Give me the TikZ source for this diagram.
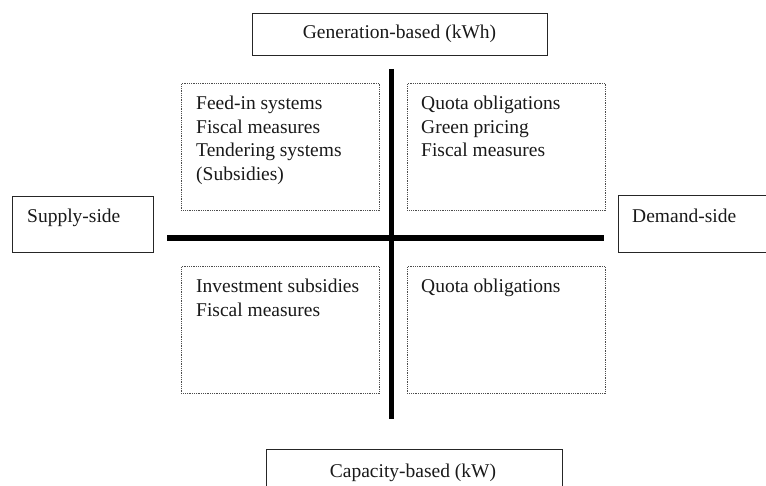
\documentclass[tikz,border=0pt]{standalone}
\usepackage{fontspec}
\setmainfont{Liberation Serif}
\begin{document}
\begin{tikzpicture}[x=1pt,y=-1pt,
  solidbox/.style={draw=black!85, line width=1.1pt, inner sep=0pt, anchor=north west},
  dotbox/.style={draw=black!70, line width=0.8pt, dash pattern=on 0.7pt off 1.1pt, inner sep=0pt, anchor=north west, minimum width=198pt, minimum height=127pt},
  bar/.style={line width=5.5pt, draw=black},
  lbl/.style={font=\fontsize{19.5}{23.5}\selectfont, inner sep=0pt, anchor=base west, align=left, text=black!90},
  clbl/.style={font=\fontsize{19.5}{23.5}\selectfont, inner sep=0pt, anchor=base, text=black!90},
]
\useasboundingbox (0,0) rectangle (766,486);
\clip (0,0) rectangle (766,486);

% outer labelled boxes
\node[solidbox, minimum width=295pt, minimum height=42pt] (gen) at (252,13) {};
\node[solidbox, minimum width=141pt, minimum height=56pt] (sup) at (12,196) {};
\node[solidbox, minimum width=170pt, minimum height=57pt] (dem) at (618,195) {};
\node[solidbox, minimum width=296pt, minimum height=50pt] (cap) at (266,449) {};

\node[clbl] (gent) at (399.5,39) {Generation-based (kWh)};
\node[lbl] (supt) at (27,223) {Supply-side};
\node[lbl] (demt) at (632,223) {Demand-side};
\node[clbl] (capt) at (413,477) {Capacity-based (kW)};

% dotted quadrant boxes
\node[dotbox] (tl) at (181,83) {};
\node[dotbox] (tr) at (407,83) {};
\node[dotbox] (bl) at (181,266) {};
\node[dotbox] (br) at (407,266) {};

% multi-line labels: base anchor sits on the last line's baseline
\node[lbl] (tlt) at (196,180.5) {Feed-in systems\\Fiscal measures\\Tendering systems\\(Subsidies)};
\node[lbl] (trt) at (421,157) {Quota obligations\\Green pricing\\Fiscal measures};
\node[lbl] (blt) at (196,316.5) {Investment subsidies\\Fiscal measures};
\node[lbl] (brt) at (421,293) {Quota obligations};

% axes
\coordinate (vtop) at (391.5,69);
\coordinate (vbot) at (391.5,419);
\coordinate (hl) at (167,238);
\coordinate (hr) at (604,238);
\draw[bar] (vtop) -- (vbot);
\draw[bar] (hl) -- (hr);
\end{tikzpicture}
\end{document}
